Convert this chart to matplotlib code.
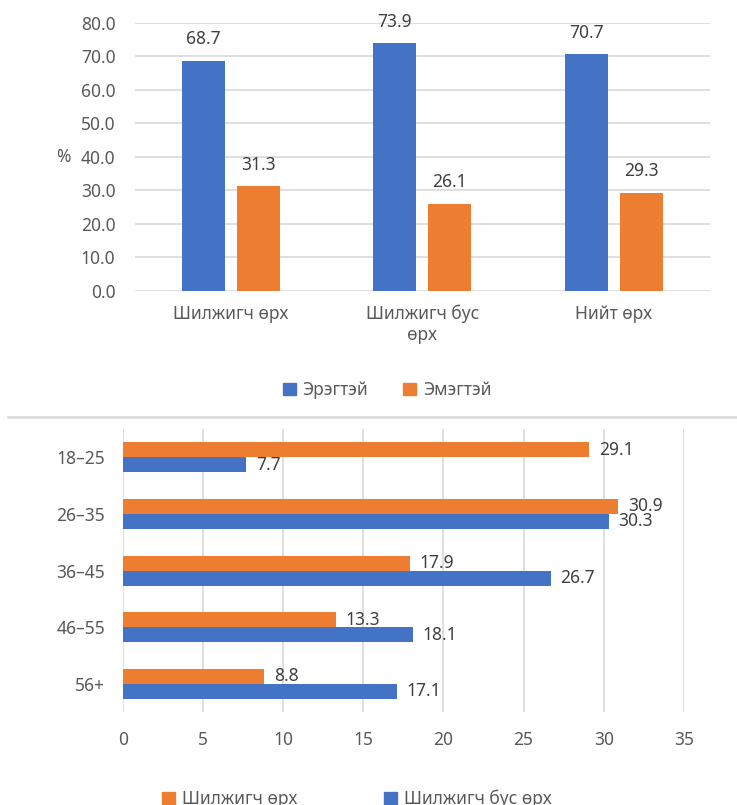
import matplotlib.pyplot as plt
import numpy as np
from matplotlib.lines import Line2D
from matplotlib.patches import Patch

plt.rcParams['font.family'] = ['Noto Sans', 'DejaVu Sans']

# top panel: share by sex (%)
groups = ["Шилжигч өрх", "Шилжигч бус\nөрх", "Нийт өрх"]
male = [68.7, 73.9, 70.7]
female = [31.3, 26.1, 29.3]
sex_labels = ["Эрэгтэй", "Эмэгтэй"]

# bottom panel: age distribution (%)
ages = ["18–25", "26–35", "36–45", "46–55", "56+"]
migrant = [29.1, 30.9, 17.9, 13.3, 8.8]
non_migrant = [7.7, 30.3, 26.7, 18.1, 17.1]
hh_labels = ["Шилжигч өрх", "Шилжигч бус өрх"]

BLUE = "#4472C4"
ORANGE = "#ED7D31"
GRID = "#d9d9d9"
TICK = "#595959"
VAL = "#404040"
FS = 12.5

fig = plt.figure(figsize=(7.37, 8.05), dpi=100)

# ---- vertical grouped bars ----
ax1 = fig.add_axes([0.183, 0.6385, 0.780, 0.333])
x = np.arange(len(groups))
w = 0.225
off = 0.143
b1 = ax1.bar(x - off, male, w, color=BLUE, zorder=3)
b2 = ax1.bar(x + off, female, w, color=ORANGE, zorder=3)
for bars, vals in ((b1, male), (b2, female)):
    for r, v in zip(bars, vals):
        ax1.annotate(f"{v:.1f}", (r.get_x() + r.get_width() / 2, v),
                     xytext=(0, 9), textcoords="offset points",
                     ha="center", va="bottom", fontsize=FS, color=VAL)
ax1.set_xlim(-0.5, len(groups) - 0.5)
ax1.set_ylim(0, 80)
ax1.set_yticks(np.arange(0, 81, 10))
ax1.set_yticklabels([f"{t:.1f}" for t in np.arange(0, 81, 10)])
ax1.set_xticks(x)
ax1.set_xticklabels(groups)
ax1.yaxis.grid(True, color=GRID, lw=1.2, zorder=0)
ax1.tick_params(axis="both", length=0, labelsize=FS, labelcolor=TICK)
ax1.tick_params(axis="y", pad=14)
ax1.tick_params(axis="x", pad=10)
for s in ax1.spines.values():
    s.set_visible(False)
fig.text(63 / 737, 1 - 157 / 805, "%", ha="center", va="center",
         fontsize=FS, color=TICK)

fig.legend(handles=[Patch(color=BLUE), Patch(color=ORANGE)], labels=sex_labels,
           loc="center", bbox_to_anchor=(387 / 737, 1 - 390 / 805), ncol=2,
           frameon=False, fontsize=FS, labelcolor=TICK, handlelength=0.75,
           handleheight=0.75, handletextpad=0.4, columnspacing=2.0)

# divider between the two panels
fig.add_artist(Line2D([8 / 737, 1.0], [1 - 417 / 805, 1 - 417 / 805],
                      color=GRID, lw=1.8, transform=fig.transFigure))

# ---- horizontal grouped bars ----
ax2 = fig.add_axes([0.1669, 0.1155, 0.761, 0.3516])
y = np.arange(len(ages))
h = 0.265
c1 = ax2.barh(y - h / 2, migrant, h, color=ORANGE, zorder=3)
c2 = ax2.barh(y + h / 2, non_migrant, h, color=BLUE, zorder=3)
for bars, vals in ((c1, migrant), (c2, non_migrant)):
    for r, v in zip(bars, vals):
        ax2.annotate(f"{v:.1f}", (v, r.get_y() + r.get_height() / 2),
                     xytext=(7, 0), textcoords="offset points",
                     ha="left", va="center", fontsize=FS, color=VAL)
ax2.set_xlim(0, 35)
ax2.set_ylim(len(ages) - 0.5, -0.5)
ax2.set_xticks(np.arange(0, 36, 5))
ax2.set_yticks(y)
ax2.set_yticklabels(ages)
ax2.xaxis.grid(True, color=GRID, lw=1.2, zorder=0)
ax2.tick_params(axis="both", length=0, labelsize=FS, labelcolor=TICK)
ax2.tick_params(axis="y", pad=13)
ax2.tick_params(axis="x", pad=14)
for s in ax2.spines.values():
    s.set_visible(False)

fig.legend(handles=[Patch(color=ORANGE), Patch(color=BLUE)], labels=hh_labels,
           loc="center", bbox_to_anchor=(357 / 737, 1 - 799 / 805), ncol=2,
           frameon=False, fontsize=FS, labelcolor=TICK, handlelength=0.75,
           handleheight=0.75, handletextpad=0.4, columnspacing=5.0)

fig.savefig("out.png", dpi=100)
